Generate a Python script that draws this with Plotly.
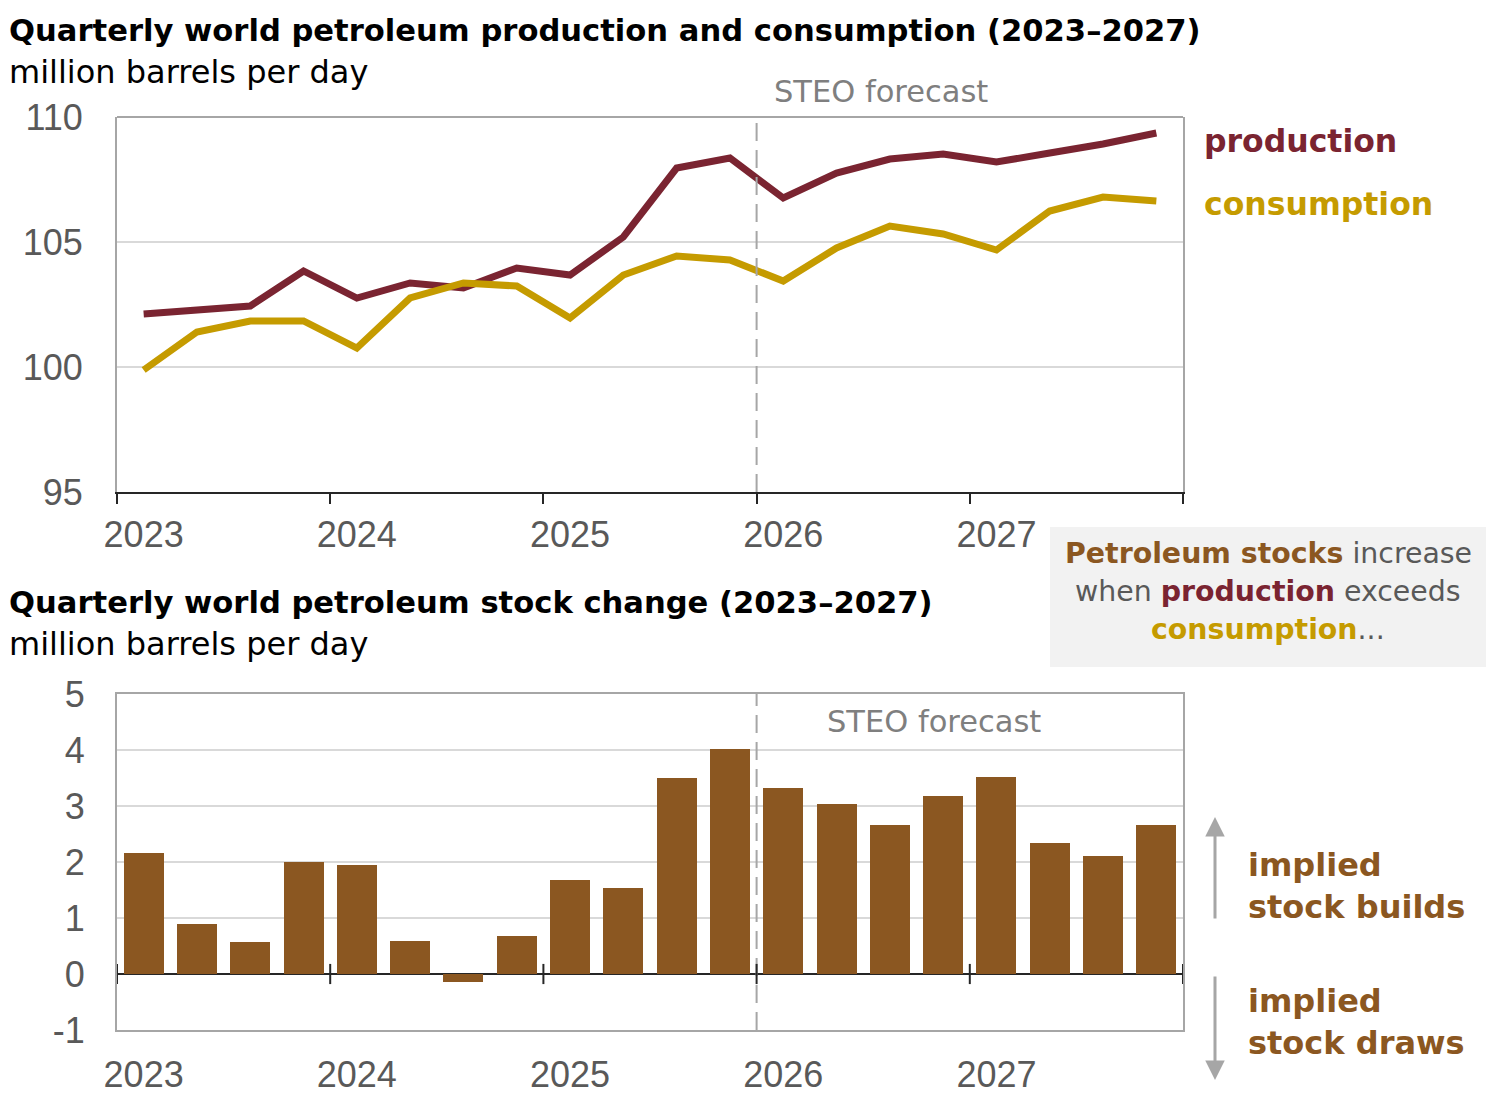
import plotly.graph_objects as go

# ---------------- data ----------------
quarters = [f"{y}Q{q}" for y in range(2023, 2028) for q in range(1, 5)]
years = ["2023", "2024", "2025", "2026", "2027"]

production = [102.12, 102.30, 102.44, 103.84, 102.76, 103.36, 103.16, 103.96, 103.68, 105.20,
              107.96, 108.36, 106.76, 107.76, 108.32, 108.52, 108.20, 108.56, 108.92, 109.36]
consumption = [99.88, 101.40, 101.84, 101.84, 100.76, 102.76, 103.36, 103.24, 101.96, 103.68,
               104.44, 104.28, 103.44, 104.76, 105.64, 105.32, 104.68, 106.24, 106.80, 106.64]
stock_change = [2.16, 0.89, 0.57, 2.00, 1.95, 0.59, -0.14, 0.68, 1.68, 1.54,
                3.50, 4.02, 3.32, 3.04, 2.66, 3.18, 3.52, 2.34, 2.11, 2.66]
forecast_start = "2026Q1"
top_ticks = [95, 100, 105, 110]
bot_ticks = [-1, 0, 1, 2, 3, 4, 5]

# ---------------- styling ----------------
W, H = 1486, 1108
PROD_C = "#7a2431"
CONS_C = "#c59b00"
BAR_C = "#8b5721"
GRID_C = "#d9d9d9"
BOX_C = "#a6a6a6"
TXT_C = "#595959"
FONT = "Liberation Sans, Arial, sans-serif"
WFONT = "DejaVu Sans, Liberation Sans, sans-serif"

def px(x, y):
    return x / W, 1 - y / H

xs = list(range(len(quarters)))
fc_x = quarters.index(forecast_start) - 0.5
year_bounds = [i - 0.5 for i in range(0, len(quarters) + 1, 4)]
year_label_pos = list(range(0, len(quarters), 4))

xdom = [117 / W, 1183 / W]
top_dom = [1 - 492 / H, 1 - 117 / H]
bot_dom = [1 - 1030 / H, 1 - 694 / H]

fig = go.Figure()
fig.add_trace(go.Scatter(x=xs, y=production, mode="lines", line=dict(color=PROD_C, width=7),
                         xaxis="x", yaxis="y", name="production", showlegend=False))
fig.add_trace(go.Scatter(x=xs, y=consumption, mode="lines", line=dict(color=CONS_C, width=7),
                         xaxis="x", yaxis="y", name="consumption", showlegend=False))
fig.add_trace(go.Bar(x=xs, y=stock_change, marker=dict(color=BAR_C, line=dict(width=0)),
                     width=0.75, xaxis="x2", yaxis="y2", showlegend=False))

tickfont = dict(family=FONT, size=36, color=TXT_C)

fig.update_layout(
    width=W, height=H, margin=dict(l=0, r=0, t=0, b=0, autoexpand=False),
    paper_bgcolor="white", plot_bgcolor="white",
    font=dict(family=FONT),
    xaxis=dict(domain=xdom, anchor="y", range=[-0.5, len(quarters) - 0.5],
               tickmode="array", tickvals=year_label_pos, ticktext=years, ticks="",
               showline=True, linecolor="#262626", linewidth=2, showgrid=False, zeroline=False,
               tickfont=tickfont, ticklabelstandoff=10,
               minor=dict(tickmode="array", tickvals=year_bounds, ticks="outside",
                          ticklen=10, tickwidth=2, tickcolor="#262626", showgrid=False)),
    yaxis=dict(domain=top_dom, anchor="x", range=[95, 110], tickmode="array",
               tickvals=top_ticks, ticktext=[str(v) for v in top_ticks],
               showgrid=True, gridcolor=GRID_C, gridwidth=2,
               zeroline=False, showline=True, linecolor=BOX_C, linewidth=2, mirror=True,
               ticks="", tickfont=tickfont, ticklabelstandoff=25),
    xaxis2=dict(domain=xdom, anchor="y2", range=[-0.5, len(quarters) - 0.5],
                tickmode="array", tickvals=year_label_pos, ticktext=years, ticks="",
                showline=True, linecolor=BOX_C, linewidth=2, mirror=True, showgrid=False,
                zeroline=False, tickfont=tickfont, ticklabelstandoff=12),
    yaxis2=dict(domain=bot_dom, anchor="x2", range=[-1, 5], tickmode="array",
                tickvals=bot_ticks, ticktext=[str(v) for v in bot_ticks],
                showgrid=True, gridcolor=GRID_C, gridwidth=2,
                zeroline=True, zerolinecolor="#262626", zerolinewidth=2,
                showline=True, linecolor=BOX_C, linewidth=2, mirror=True,
                ticks="", tickfont=tickfont, ticklabelstandoff=23),
    bargap=0,
)

shapes = []
shapes.append(dict(type="line", xref="x domain", yref="y domain", x0=0, x1=1, y0=1, y1=1,
                   line=dict(color=BOX_C, width=2)))
shapes.append(dict(type="line", xref="x", yref="y domain", x0=fc_x, x1=fc_x, y0=0, y1=1,
                   line=dict(color=BOX_C, width=2, dash="18px,9px"), layer="above"))
shapes.append(dict(type="line", xref="x2", yref="y2 domain", x0=fc_x, x1=fc_x, y0=0, y1=1,
                   line=dict(color=BOX_C, width=2, dash="18px,9px"), layer="above"))
for b in year_bounds:
    shapes.append(dict(type="line", xref="x2", yref="y2", x0=b, x1=b, y0=-0.18, y1=0.18,
                       line=dict(color="#262626", width=2), layer="above"))
bx0, by0 = px(1050, 527)
bx1, by1 = px(1486, 667)
shapes.append(dict(type="rect", xref="paper", yref="paper", x0=bx0, x1=bx1, y0=by1, y1=by0,
                   fillcolor="#f2f2f2", line=dict(width=0), layer="below"))
fig.update_layout(shapes=shapes)

ann = []
def text(x, y, s, size, color="black", bold=False, xanchor="left", align="left", family=WFONT):
    xx, yy = px(x, y)
    t = f"<b>{s}</b>" if bold else s
    ann.append(dict(x=xx, y=yy, xref="paper", yref="paper", text=t, showarrow=False,
                    xanchor=xanchor, yanchor="middle", align=align,
                    font=dict(family=family, size=size, color=color)))

text(7, 30, "Quarterly world petroleum production and consumption (2023–2027)", 30.6, "black", True)
text(7, 72, "million barrels per day", 32, "black")
text(881, 91, "STEO forecast", 30.5, "#7f7f7f", xanchor="center")
text(1202, 141, "production", 31.5, PROD_C, True)
text(1202, 204, "consumption", 31.5, CONS_C, True)

text(7, 602, "Quarterly world petroleum stock change (2023–2027)", 30.6, "black", True)
text(7, 644, "million barrels per day", 32, "black")
text(934, 721, "STEO forecast", 30.5, "#7f7f7f", xanchor="center")

note_lines = [
    (553, f"<b><span style='color:{BAR_C}'>Petroleum stocks</span></b> increase"),
    (591, f"when <b><span style='color:{PROD_C}'>production</span></b> exceeds"),
    (629, f"<b><span style='color:{CONS_C}'>consumption</span></b>..."),
]
for yy, s in note_lines:
    text(1268, yy, s, 28.4, TXT_C, xanchor="center", align="center")

for yy, s in [(865, "implied"), (907, "stock builds"), (1001, "implied"), (1043, "stock draws")]:
    text(1246, yy, s, 32, BAR_C, True)

hx, hy = px(1215, 817)
ann.append(dict(x=hx, y=hy, xref="paper", yref="paper", ax=0, ay=103, axref="pixel", ayref="pixel",
                text="", showarrow=True, arrowhead=2, arrowsize=1.3, arrowwidth=3, arrowcolor=BOX_C))
hx, hy = px(1215, 1080)
ann.append(dict(x=hx, y=hy, xref="paper", yref="paper", ax=0, ay=-105, axref="pixel", ayref="pixel",
                text="", showarrow=True, arrowhead=2, arrowsize=1.3, arrowwidth=3, arrowcolor=BOX_C))

fig.update_layout(annotations=ann)
fig.write_html("out.html")

# remove the default page margin so the figure fills the window exactly
with open("out.html", "r", encoding="utf-8") as f:
    html = f.read()
html = html.replace("<head>", "<head><style>html,body{margin:0;padding:0;overflow:hidden;}</style>", 1)
with open("out.html", "w", encoding="utf-8") as f:
    f.write(html)
